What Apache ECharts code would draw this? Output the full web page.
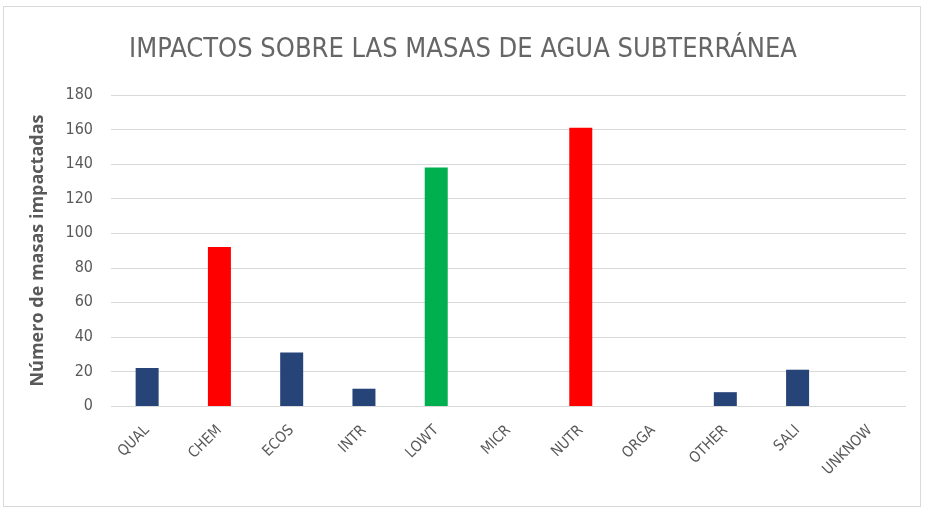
<!DOCTYPE html>
<html>
<head>
<meta charset="utf-8">
<script src="https://cdn.jsdelivr.net/npm/echarts@6/dist/echarts.min.js"></script>
<style>
  html, body { margin: 0; padding: 0; background: #fff; }
  #frame { position: absolute; left: 3px; top: 6px; width: 918px; height: 501px; border: 1px solid #d9d9d9; box-sizing: border-box; }
  #chart { position: absolute; left: 0; top: 0; width: 926px; height: 510px; }
</style>
</head>
<body>
<div id="frame"></div>
<div id="chart"></div>
<script>
var categories = ['QUAL', 'CHEM', 'ECOS', 'INTR', 'LOWT', 'MICR', 'NUTR', 'ORGA', 'OTHER', 'SALI', 'UNKNOW'];
var values = [22, 92, 31, 10, 138, 0, 161, 0, 8, 21, 0];
var barColors = ['#264478', '#FF0000', '#264478', '#264478', '#00B050', '#264478', '#FF0000', '#264478', '#264478', '#264478', '#264478'];

var fontFamily = "'Liberation Sans Narrow', 'DejaVu Sans Condensed', sans-serif";

var chart = echarts.init(document.getElementById('chart'));
chart.setOption({
    animation: false,
    backgroundColor: 'transparent',
    title: {
        text: 'IMPACTOS SOBRE LAS MASAS DE AGUA SUBTERRÁNEA',
        left: 'center',
        top: 31,
        textStyle: {
            fontFamily: fontFamily,
            fontWeight: 'normal',
            fontSize: 27,
            color: '#666666'
        }
    },
    grid: {
        left: 111,
        right: 20,
        top: 95,
        bottom: 104
    },
    xAxis: {
        type: 'category',
        data: categories,
        axisLine: { show: false },
        axisTick: { show: false },
        axisLabel: {
            rotate: 45,
            margin: 22,
            color: '#595959',
            fontFamily: fontFamily,
            fontSize: 15
        }
    },
    yAxis: {
        type: 'value',
        min: 0,
        max: 180,
        interval: 20,
        name: 'Número de masas impactadas',
        nameLocation: 'middle',
        nameGap: 64,
        nameTextStyle: {
            fontFamily: "'Open Sans', sans-serif",
            fontSize: 18,
            fontWeight: 'bold',
            color: '#595959'
        },
        axisLine: { show: false },
        axisTick: { show: false },
        axisLabel: {
            margin: 18,
            color: '#595959',
            fontFamily: fontFamily,
            fontSize: 16
        },
        splitLine: { lineStyle: { color: '#d9d9d9', width: 1 } }
    },
    series: [{
        type: 'bar',
        barWidth: 23,
        data: values.map(function (v, i) {
            return { value: v, itemStyle: { color: barColors[i] } };
        })
    }]
});
</script>
</body>
</html>
